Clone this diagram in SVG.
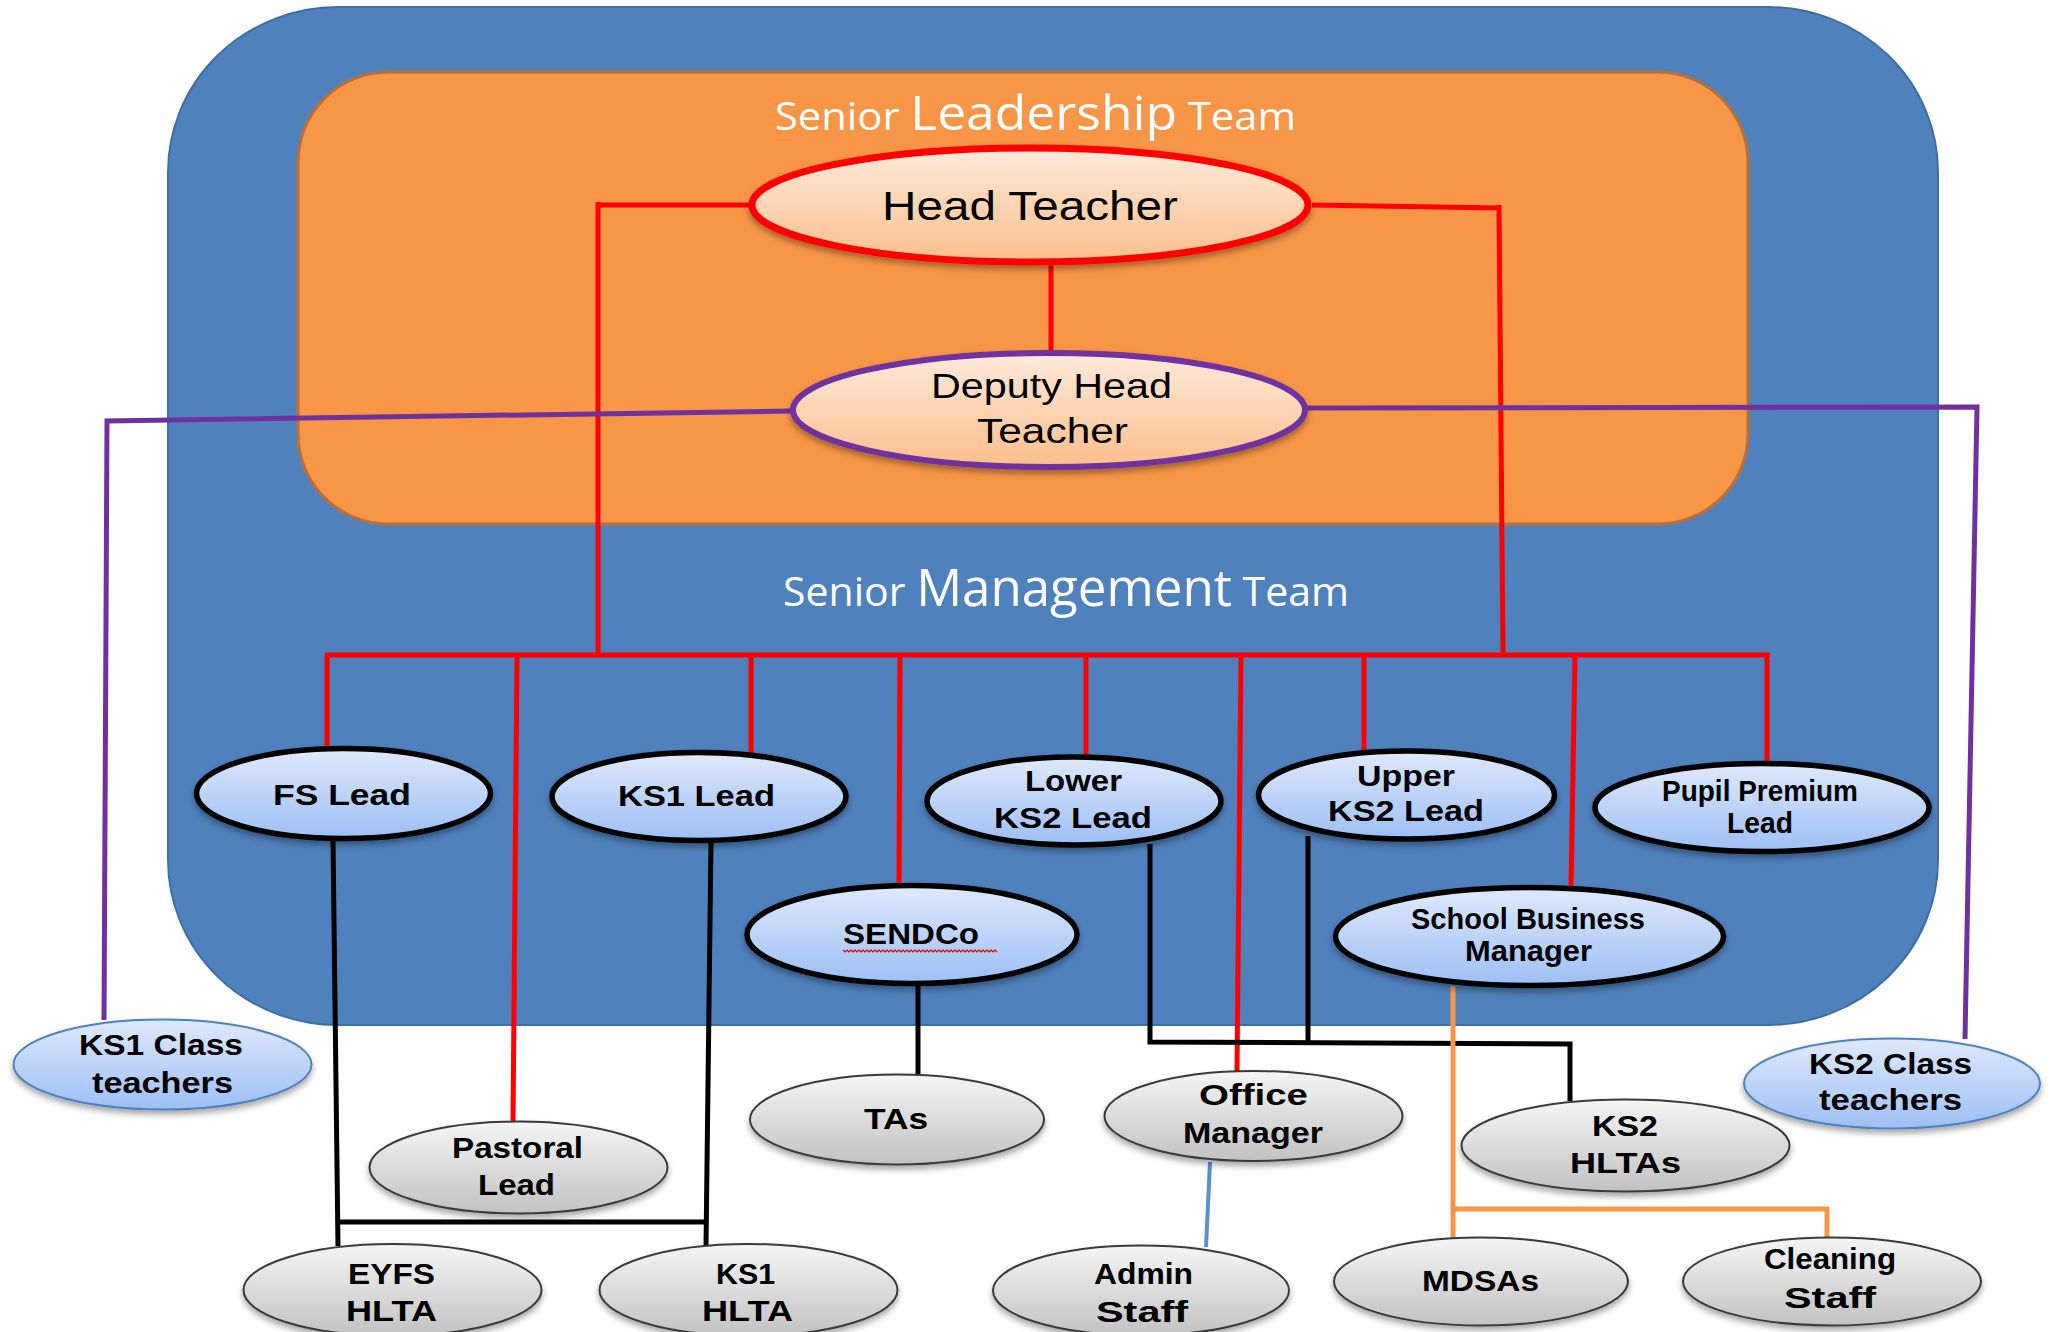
<svg xmlns="http://www.w3.org/2000/svg" width="2053" height="1332" viewBox="0 0 2053 1332">
<defs>
<linearGradient id="gPeach" x1="0" y1="0" x2="0" y2="1"><stop offset="0" stop-color="#feeadb"/><stop offset="1" stop-color="#fbbf8c"/></linearGradient>
<linearGradient id="gBlue" x1="0" y1="0" x2="0" y2="1"><stop offset="0" stop-color="#dfe9fc"/><stop offset="1" stop-color="#9dbff5"/></linearGradient>
<linearGradient id="gGrey" x1="0" y1="0" x2="0" y2="1"><stop offset="0" stop-color="#f5f5f5"/><stop offset="1" stop-color="#c2c2c2"/></linearGradient>
<filter id="sh" x="-10%" y="-20%" width="120%" height="150%"><feDropShadow dx="0" dy="4" stdDeviation="3" flood-color="#000" flood-opacity="0.35"/></filter>
</defs>
<style>
.title{fill:#fff;font-family:"Open Sans","DejaVu Sans",sans-serif;}
.slt{fill:url(#gPeach);filter:url(#sh);}
.blue{fill:url(#gBlue);stroke:#000;stroke-width:5.5;filter:url(#sh);}
.grey{fill:url(#gGrey);stroke:#3a3a3a;stroke-width:2;filter:url(#sh);}
.cls{fill:url(#gBlue);stroke:#4f81bd;stroke-width:2;filter:url(#sh);}
.lbl{font-family:"Liberation Sans","DejaVu Sans",sans-serif;font-weight:bold;font-size:29px;fill:#000;}
.big{font-family:"Liberation Sans","DejaVu Sans",sans-serif;fill:#000;}
.red{fill:none;stroke:#ff0000;stroke-width:5;stroke-linejoin:miter;}
.blk{fill:none;stroke:#000;stroke-width:5;}
.pur{fill:none;stroke:#7030a0;stroke-width:5;}
</style>
<g id="background">
<rect x="168" y="7" width="1770" height="1018" rx="170" ry="165" fill="#4f81bd" stroke="#3e6fa3" stroke-width="2"/>
<rect x="298" y="72" width="1450" height="452" rx="90" ry="90" fill="#f79646" stroke="#b8703a" stroke-width="3"/>
<text class="title" x="775" y="130" textLength="521" lengthAdjust="spacingAndGlyphs"><tspan font-size="38">Senior </tspan><tspan font-size="47">Leadership</tspan><tspan font-size="38"> Team</tspan></text>
<text class="title" x="783" y="606" textLength="566" lengthAdjust="spacingAndGlyphs"><tspan font-size="41">Senior </tspan><tspan font-size="51">Management</tspan><tspan font-size="41"> Team</tspan></text>
</g>
<g id="connectors">
<path class="red" stroke-width="7" d="M749 205 H596"/>
<path class="red" stroke-width="4" d="M598 202 V655"/>
<path class="red" stroke-width="7" d="M1312 205 L1501 208"/>
<path class="red" stroke-width="4" d="M1499 205 L1503 655"/>
<path class="red" stroke-width="4" d="M1051 262 V350"/>
<path class="red" stroke-width="6" d="M325 655 H1770"/>
<path class="red" d="M327 655 V750"/>
<path class="red" d="M517 655 L513 1122"/>
<path class="red" d="M751 655 V753"/>
<path class="red" d="M900 655 L899 885"/>
<path class="red" d="M1086 655 V757"/>
<path class="red" d="M1241 655 L1237 1072"/>
<path class="red" d="M1364 655 V751"/>
<path class="red" d="M1575 655 L1571 887"/>
<path class="red" d="M1767 655 V763"/>
<path class="pur" d="M791 411 L107 421 L104 1020"/>
<path class="pur" d="M1307 408 L1977 407 L1965 1039"/>
<path class="blk" d="M333 840 L338 1246"/>
<path class="blk" d="M711 842 L706 1246"/>
<path class="blk" d="M336 1222 H708"/>
<path class="blk" d="M918 984 V1076"/>
<path class="blk" d="M1150 844 V1042 L1570 1044 V1101"/>
<path class="blk" d="M1308 836 V1043"/>
<path fill="none" stroke="#5b8fd0" stroke-width="4" d="M1210 1162 L1206 1247"/>
<path fill="none" stroke="#f79646" stroke-width="5" d="M1453 986 V1238 M1453 1209 H1827 V1238"/>
</g>
<g id="head-teacher">
<ellipse class="slt" cx="1030" cy="205" rx="278" ry="57" stroke="#ff0000" stroke-width="7"/>
<text class="big" x="882" y="220" font-size="40" textLength="296" lengthAdjust="spacingAndGlyphs">Head Teacher</text>
</g>
<g id="deputy-head">
<ellipse class="slt" cx="1049" cy="410" rx="256" ry="57" stroke="#7030a0" stroke-width="6"/>
<text class="big" font-size="35"><tspan x="931" y="398" textLength="241" lengthAdjust="spacingAndGlyphs">Deputy Head</tspan><tspan x="977" y="443" textLength="151" lengthAdjust="spacingAndGlyphs">Teacher</tspan></text>
</g>
<g id="fs-lead">
<ellipse class="blue" cx="343.5" cy="793.5" rx="147" ry="45"/>
<text class="lbl" x="273" y="805" textLength="138" lengthAdjust="spacingAndGlyphs">FS Lead</text>
</g>
<g id="ks1-lead">
<ellipse class="blue" cx="699" cy="796.5" rx="147" ry="44"/>
<text class="lbl" x="618" y="806" textLength="157" lengthAdjust="spacingAndGlyphs">KS1 Lead</text>
</g>
<g id="lower-ks2-lead">
<ellipse class="blue" cx="1074" cy="801" rx="147" ry="44"/>
<text class="lbl" font-size="28"><tspan x="1025" y="791" textLength="97" lengthAdjust="spacingAndGlyphs">Lower</tspan><tspan x="994" y="828" textLength="158" lengthAdjust="spacingAndGlyphs">KS2 Lead</tspan></text>
</g>
<g id="upper-ks2-lead">
<ellipse class="blue" cx="1406.5" cy="795" rx="148" ry="44"/>
<text class="lbl" font-size="28"><tspan x="1357" y="786" textLength="98" lengthAdjust="spacingAndGlyphs">Upper</tspan><tspan x="1328" y="821" textLength="156" lengthAdjust="spacingAndGlyphs">KS2 Lead</tspan></text>
</g>
<g id="pupil-premium-lead">
<ellipse class="blue" cx="1762" cy="807.5" rx="167" ry="44"/>
<text class="lbl" font-size="26"><tspan x="1662" y="801" textLength="196" lengthAdjust="spacingAndGlyphs">Pupil Premium</tspan><tspan x="1727" y="833" textLength="66" lengthAdjust="spacingAndGlyphs">Lead</tspan></text>
</g>
<g id="sendco">
<ellipse class="blue" cx="912" cy="934.5" rx="165" ry="49"/>
<text class="lbl" x="843" y="944" textLength="136" lengthAdjust="spacingAndGlyphs">SENDCo</text>
<path fill="none" stroke="#e00000" stroke-width="1.2" d="M843 950 l2 2 l2 -2 l2 2 l2 -2 l2 2 l2 -2 l2 2 l2 -2 l2 2 l2 -2 l2 2 l2 -2 l2 2 l2 -2 l2 2 l2 -2 l2 2 l2 -2 l2 2 l2 -2 l2 2 l2 -2 l2 2 l2 -2 l2 2 l2 -2 l2 2 l2 -2 l2 2 l2 -2 l2 2 l2 -2 l2 2 l2 -2 l2 2 l2 -2 l2 2 l2 -2 l2 2 l2 -2 l2 2 l2 -2 l2 2 l2 -2 l2 2 l2 -2 l2 2 l2 -2 l2 2 l2 -2 l2 2 l2 -2 l2 2 l2 -2 l2 2 l2 -2 l2 2 l2 -2 l2 2 l2 -2 l2 2 l2 -2 l2 2 l2 -2 l2 2 l2 -2 l2 2 l2 -2 l2 2 l2 -2 l2 2 l2 -2 l2 2 l2 -2 l2 2 l2 -2 l2 2"/>
</g>
<g id="school-business-manager">
<ellipse class="blue" cx="1529.5" cy="936.5" rx="194" ry="49"/>
<text class="lbl" font-size="27"><tspan x="1411" y="929" textLength="234" lengthAdjust="spacingAndGlyphs">School Business</tspan><tspan x="1465" y="961" textLength="127" lengthAdjust="spacingAndGlyphs">Manager</tspan></text>
</g>
<g id="ks1-class-teachers">
<ellipse class="cls" cx="162.5" cy="1064.5" rx="149" ry="45"/>
<text class="lbl" font-size="28"><tspan x="79" y="1055" textLength="164" lengthAdjust="spacingAndGlyphs">KS1 Class</tspan><tspan x="92" y="1093" textLength="141" lengthAdjust="spacingAndGlyphs">teachers</tspan></text>
</g>
<g id="ks2-class-teachers">
<ellipse class="cls" cx="1892" cy="1083.5" rx="148" ry="45"/>
<text class="lbl" font-size="28"><tspan x="1809" y="1074" textLength="163" lengthAdjust="spacingAndGlyphs">KS2 Class</tspan><tspan x="1819" y="1110" textLength="143" lengthAdjust="spacingAndGlyphs">teachers</tspan></text>
</g>
<g id="tas">
<ellipse class="grey" cx="897" cy="1119.5" rx="147" ry="45"/>
<text class="lbl" x="864" y="1129" textLength="64" lengthAdjust="spacingAndGlyphs">TAs</text>
</g>
<g id="pastoral-lead">
<ellipse class="grey" cx="518.5" cy="1167.5" rx="149" ry="46"/>
<text class="lbl" font-size="28"><tspan x="452" y="1158" textLength="131" lengthAdjust="spacingAndGlyphs">Pastoral</tspan><tspan x="478" y="1195" textLength="77" lengthAdjust="spacingAndGlyphs">Lead</tspan></text>
</g>
<g id="office-manager">
<ellipse class="grey" cx="1253.5" cy="1116" rx="149" ry="45"/>
<text class="lbl" font-size="28"><tspan x="1199" y="1105" textLength="109" lengthAdjust="spacingAndGlyphs">Office</tspan><tspan x="1183" y="1143" textLength="140" lengthAdjust="spacingAndGlyphs">Manager</tspan></text>
</g>
<g id="ks2-hltas">
<ellipse class="grey" cx="1625.5" cy="1145.5" rx="164" ry="46"/>
<text class="lbl" font-size="28"><tspan x="1592" y="1136" textLength="66" lengthAdjust="spacingAndGlyphs">KS2</tspan><tspan x="1570" y="1173" textLength="111" lengthAdjust="spacingAndGlyphs">HLTAs</tspan></text>
</g>
<g id="eyfs-hlta">
<ellipse class="grey" cx="392.5" cy="1290" rx="149" ry="46"/>
<text class="lbl" font-size="28"><tspan x="348" y="1284" textLength="87" lengthAdjust="spacingAndGlyphs">EYFS</tspan><tspan x="346" y="1321" textLength="91" lengthAdjust="spacingAndGlyphs">HLTA</tspan></text>
</g>
<g id="ks1-hlta">
<ellipse class="grey" cx="748.5" cy="1290" rx="149" ry="46"/>
<text class="lbl" font-size="28"><tspan x="716" y="1284" textLength="59" lengthAdjust="spacingAndGlyphs">KS1</tspan><tspan x="702" y="1321" textLength="91" lengthAdjust="spacingAndGlyphs">HLTA</tspan></text>
</g>
<g id="admin-staff">
<ellipse class="grey" cx="1141" cy="1290.5" rx="148" ry="45"/>
<text class="lbl" font-size="28"><tspan x="1094" y="1284" textLength="99" lengthAdjust="spacingAndGlyphs">Admin</tspan><tspan x="1096" y="1322" textLength="92" lengthAdjust="spacingAndGlyphs">Staff</tspan></text>
</g>
<g id="mdsas">
<ellipse class="grey" cx="1481" cy="1281.5" rx="147" ry="44"/>
<text class="lbl" x="1422" y="1291" textLength="117" lengthAdjust="spacingAndGlyphs">MDSAs</text>
</g>
<g id="cleaning-staff">
<ellipse class="grey" cx="1832" cy="1281.5" rx="149" ry="44"/>
<text class="lbl" font-size="28"><tspan x="1764" y="1269" textLength="132" lengthAdjust="spacingAndGlyphs">Cleaning</tspan><tspan x="1784" y="1308" textLength="92" lengthAdjust="spacingAndGlyphs">Staff</tspan></text>
</g>
</svg>
